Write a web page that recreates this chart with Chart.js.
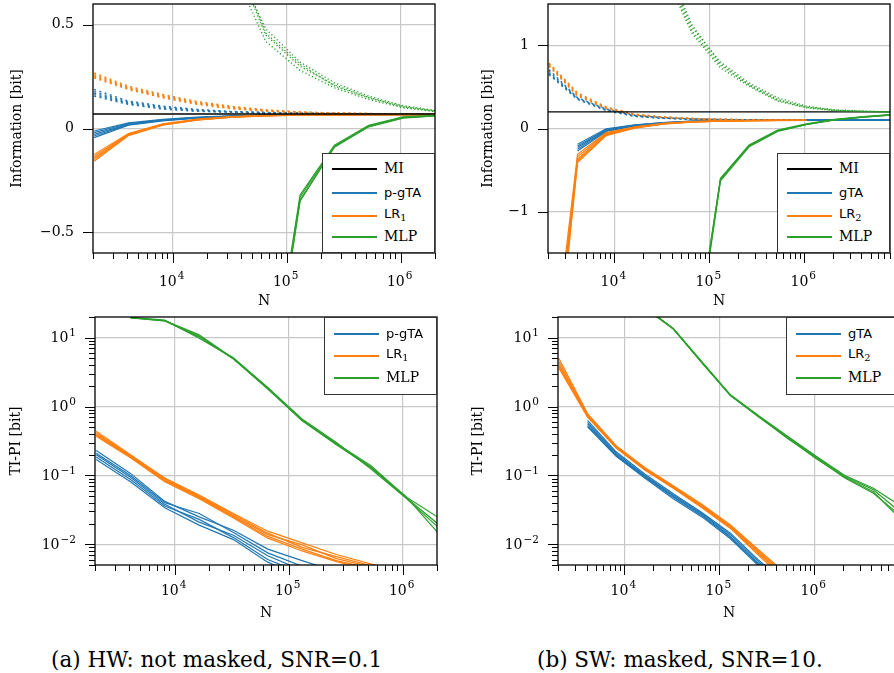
<!DOCTYPE html>
<html>
<head>
<meta charset="utf-8">
<script src="https://cdn.jsdelivr.net/npm/chart.js@4.4.1/dist/chart.umd.min.js"></script>
<style>
html, body { margin: 0; padding: 0; background: #fff; overflow: hidden; width: 894px; height: 673px; }
canvas { position: absolute; }
.legend { position: absolute; background: #fff; border: 1.2px solid #333; box-sizing: border-box; z-index: 2; }
.legend .ln { position: absolute; height: 2px; width: 45px; }
.legend .tx { position: absolute; transform: translateY(-55%); line-height: 1; white-space: nowrap; color: #000; }
.legend sub { font-size: 0.75em; font-family: "DejaVu Serif", serif; vertical-align: -0.3em; }
.serif { font-family: "DejaVu Serif", serif; font-size: 14px; }
.sans { font-family: "DejaVu Sans", sans-serif; font-size: 13px; }
.cap { position: absolute; font-family: "DejaVu Serif", serif; font-size: 21.5px; line-height: 1; white-space: nowrap; }
</style>
</head>
<body>
<canvas id="tl"></canvas>
<canvas id="tr"></canvas>
<canvas id="bl"></canvas>
<canvas id="br"></canvas>
<div class="cap" style="left:51px; top:649px;">(a) HW: not masked, SNR=0.1</div>
<div class="cap" style="left:537px; top:649px;">(b) SW: masked, SNR=10.</div>

<script>
// sample sizes (powers of two)
const N_A = [2048, 4096, 8192, 16384, 32768, 65536, 131072, 262144, 524288, 1048576, 2097152];
const N_B = [2048, 4096, 8192, 16384, 32768, 65536, 131072, 262144, 524288, 1048576, 2097152, 4194304, 8388608];
const xRangeA = [2000, 2e6];
const xRangeB = [2000, 8e6];

// mutual information
const miA = 0.07;
const miB = 0.2;

// (a) perceived information (solid), several runs
const piGtaA = [
  [-0.012, 0.027, 0.044, 0.055, 0.061, 0.064, 0.066, 0.067, 0.067, 0.067, 0.067],
  [-0.020, 0.024, 0.042, 0.053, 0.060, 0.064, 0.066, 0.067, 0.067, 0.067, 0.067],
  [-0.028, 0.021, 0.040, 0.052, 0.060, 0.063, 0.065, 0.066, 0.067, 0.067, 0.067],
  [-0.036, 0.019, 0.039, 0.051, 0.059, 0.063, 0.065, 0.066, 0.067, 0.067, 0.067],
  [-0.044, 0.016, 0.037, 0.050, 0.058, 0.062, 0.065, 0.066, 0.067, 0.067, 0.067]
];
const piLrA = [
  [-0.125, -0.024, 0.022, 0.045, 0.057, 0.063, 0.065, 0.066, 0.067, 0.067, 0.067],
  [-0.135, -0.027, 0.020, 0.043, 0.056, 0.062, 0.065, 0.066, 0.067, 0.067, 0.067],
  [-0.143, -0.029, 0.019, 0.042, 0.056, 0.062, 0.065, 0.066, 0.067, 0.067, 0.067],
  [-0.150, -0.031, 0.018, 0.041, 0.055, 0.061, 0.064, 0.066, 0.067, 0.067, 0.067],
  [-0.158, -0.034, 0.016, 0.040, 0.054, 0.061, 0.064, 0.066, 0.067, 0.067, 0.067]
];
const piMlpA = [
  [null, null, null, null, null, -1.38, -0.32, -0.080, 0.015, 0.056, 0.064],
  [null, null, null, null, null, -1.42, -0.33, -0.085, 0.012, 0.054, 0.063],
  [null, null, null, null, null, -1.45, -0.345, -0.090, 0.010, 0.052, 0.062],
  [null, null, null, null, null, -1.40, -0.35, -0.088, 0.008, 0.050, 0.061]
];
// (a) training information (dotted)
const tiGtaA = [
  [0.188, 0.132, 0.108, 0.092, 0.082, 0.078, 0.074, 0.072, 0.071, 0.070, 0.070],
  [0.178, 0.127, 0.104, 0.089, 0.081, 0.077, 0.073, 0.072, 0.071, 0.070, 0.070],
  [0.170, 0.123, 0.100, 0.087, 0.080, 0.076, 0.073, 0.071, 0.070, 0.070, 0.070],
  [0.163, 0.119, 0.097, 0.085, 0.079, 0.075, 0.072, 0.071, 0.070, 0.070, 0.070],
  [0.156, 0.116, 0.093, 0.083, 0.078, 0.074, 0.072, 0.071, 0.070, 0.070, 0.070]
];
const tiLrA = [
  [0.268, 0.204, 0.164, 0.130, 0.107, 0.090, 0.080, 0.075, 0.072, 0.071, 0.070],
  [0.260, 0.199, 0.159, 0.126, 0.104, 0.088, 0.079, 0.074, 0.072, 0.071, 0.070],
  [0.254, 0.195, 0.155, 0.123, 0.101, 0.087, 0.078, 0.074, 0.072, 0.071, 0.070],
  [0.249, 0.191, 0.151, 0.120, 0.098, 0.085, 0.077, 0.073, 0.071, 0.070, 0.070],
  [0.244, 0.188, 0.148, 0.116, 0.095, 0.083, 0.076, 0.073, 0.071, 0.070, 0.070]
];
const tiMlpA = [
  [null, null, null, null, 0.82, 0.48, 0.32, 0.220, 0.156, 0.110, 0.085],
  [null, null, null, null, 0.85, 0.45, 0.30, 0.210, 0.150, 0.106, 0.083],
  [null, null, null, null, 0.78, 0.42, 0.28, 0.196, 0.140, 0.100, 0.080],
  [null, null, null, null, 0.88, 0.46, 0.31, 0.205, 0.147, 0.104, 0.082]
];

// (b) perceived information (solid)
const piGtaB = [
  [null, -0.19, -0.004, 0.045, 0.072, 0.090, 0.097, 0.100, 0.100, 0.100, 0.100, 0.100, 0.100],
  [null, -0.21, -0.012, 0.040, 0.070, 0.088, 0.096, 0.099, 0.100, 0.100, 0.100, 0.100, 0.100],
  [null, -0.23, -0.020, 0.036, 0.067, 0.086, 0.095, 0.099, 0.100, 0.100, 0.100, 0.100, 0.100],
  [null, -0.25, -0.028, 0.032, 0.064, 0.084, 0.094, 0.098, 0.099, 0.100, 0.100, 0.100, 0.100],
  [null, -0.27, -0.036, 0.028, 0.062, 0.082, 0.093, 0.098, 0.099, 0.100, 0.100, 0.100, 0.100]
];
const piLrB = [
  [-3.2, -0.31, -0.050, 0.020, 0.062, 0.084, 0.092, 0.096, 0.097, 0.098, null, null, null],
  [-3.4, -0.34, -0.059, 0.016, 0.060, 0.082, 0.091, 0.096, 0.097, 0.098, null, null, null],
  [-3.5, -0.37, -0.068, 0.012, 0.057, 0.080, 0.090, 0.095, 0.097, 0.098, null, null, null],
  [-3.65, -0.39, -0.076, 0.008, 0.055, 0.078, 0.089, 0.095, 0.097, 0.098, null, null, null],
  [-3.8, -0.41, -0.085, 0.004, 0.052, 0.076, 0.088, 0.094, 0.096, 0.098, null, null, null]
];
const piMlpB = [
  [null, null, null, null, null, -2.90, -0.60, -0.200, -0.020, 0.055, 0.110, 0.142, 0.168],
  [null, null, null, null, null, -2.85, -0.61, -0.210, -0.025, 0.050, 0.108, 0.140, 0.166],
  [null, null, null, null, null, -2.95, -0.62, -0.215, -0.030, 0.048, 0.105, 0.138, 0.164],
  [null, null, null, null, null, -3.00, -0.63, -0.220, -0.035, 0.045, 0.103, 0.136, 0.162]
];
// (b) training information (dotted)
const tiGtaB = [
  [0.71, 0.37, 0.235, 0.160, 0.130, 0.115, 0.108, 0.104, 0.102, 0.101, 0.100, 0.100, 0.100],
  [0.69, 0.365, 0.230, 0.155, 0.128, 0.114, 0.107, 0.104, 0.102, 0.101, 0.100, 0.100, 0.100],
  [0.67, 0.36, 0.225, 0.150, 0.126, 0.113, 0.106, 0.103, 0.102, 0.101, 0.100, 0.100, 0.100],
  [0.66, 0.355, 0.220, 0.148, 0.124, 0.112, 0.106, 0.103, 0.101, 0.100, 0.100, 0.100, 0.100],
  [0.65, 0.35, 0.215, 0.145, 0.122, 0.111, 0.105, 0.103, 0.101, 0.100, 0.100, 0.100, 0.100]
];
const tiLrB = [
  [0.79, 0.43, 0.260, 0.175, 0.140, 0.122, 0.112, 0.106, 0.103, 0.101, null, null, null],
  [0.78, 0.42, 0.255, 0.170, 0.138, 0.121, 0.111, 0.106, 0.103, 0.101, null, null, null],
  [0.77, 0.41, 0.250, 0.168, 0.136, 0.120, 0.110, 0.105, 0.103, 0.101, null, null, null],
  [0.76, 0.40, 0.245, 0.165, 0.134, 0.119, 0.110, 0.105, 0.102, 0.101, null, null, null],
  [0.75, 0.39, 0.240, 0.162, 0.132, 0.118, 0.109, 0.105, 0.102, 0.100, null, null, null]
];
const tiMlpB = [
  [null, null, null, null, 2.00, 1.22, 0.80, 0.55, 0.37, 0.270, 0.225, 0.210, 0.200],
  [null, null, null, null, 1.95, 1.18, 0.76, 0.53, 0.35, 0.260, 0.220, 0.207, 0.200],
  [null, null, null, null, 2.05, 1.25, 0.78, 0.52, 0.34, 0.255, 0.218, 0.205, 0.198],
  [null, null, null, null, 1.90, 1.15, 0.73, 0.51, 0.33, 0.250, 0.215, 0.203, 0.197]
];

// (a) TI-PI gap, log scale
const gapGtaA = [
  [0.230, 0.107, 0.042, 0.025, 0.0160, 0.0085, 0.0058, 0.0040, 0.0030, 0.0025, 0.0020],
  [0.210, 0.100, 0.040, 0.028, 0.0148, 0.0075, 0.0048, 0.0036, 0.0028, 0.0024, 0.0020],
  [0.200, 0.094, 0.038, 0.021, 0.0135, 0.0068, 0.0042, 0.0033, 0.0027, 0.0023, 0.0020],
  [0.185, 0.087, 0.036, 0.023, 0.0125, 0.0060, 0.0038, 0.0030, 0.0026, 0.0022, 0.0020],
  [0.170, 0.081, 0.034, 0.019, 0.0117, 0.0055, 0.0033, 0.0028, 0.0025, 0.0021, 0.0020]
];
const gapLrA = [
  [0.440, 0.200, 0.092, 0.052, 0.028, 0.0155, 0.0105, 0.0071, 0.0052, 0.0040, 0.0030],
  [0.420, 0.195, 0.089, 0.050, 0.027, 0.0145, 0.0090, 0.0066, 0.0049, 0.0039, 0.0030],
  [0.400, 0.190, 0.086, 0.049, 0.026, 0.0138, 0.0098, 0.0062, 0.0047, 0.0038, 0.0030],
  [0.385, 0.185, 0.083, 0.048, 0.025, 0.0130, 0.0085, 0.0058, 0.0045, 0.0037, 0.0030],
  [0.370, 0.180, 0.081, 0.046, 0.024, 0.0123, 0.0080, 0.0056, 0.0042, 0.0036, 0.0030]
];
const gapMlpA = [
  [null, 19.6, 17.8, 11.0, 5.00, 1.90, 0.64, 0.290, 0.140, 0.050, 0.024],
  [null, 19.4, 17.5, 10.3, 4.90, 1.82, 0.62, 0.280, 0.130, 0.049, 0.019],
  [null, 19.8, 18.0, 9.8, 5.10, 1.88, 0.66, 0.300, 0.125, 0.048, 0.017],
  [null, 19.5, 17.6, 10.6, 4.95, 1.80, 0.63, 0.285, 0.135, 0.051, 0.014]
];

// (b) TI-PI gap, log scale
const gapGtaB = [
  [null, 0.63, 0.22, 0.105, 0.054, 0.029, 0.0145, 0.0058, 0.0026, null, null, null, null],
  [null, 0.59, 0.21, 0.100, 0.052, 0.028, 0.0138, 0.0055, 0.0025, null, null, null, null],
  [null, 0.56, 0.20, 0.098, 0.050, 0.027, 0.0130, 0.0052, 0.0024, null, null, null, null],
  [null, 0.53, 0.195, 0.095, 0.048, 0.026, 0.0125, 0.0050, 0.0023, null, null, null, null],
  [null, 0.51, 0.19, 0.092, 0.046, 0.025, 0.0120, 0.0048, 0.0022, null, null, null, null]
];
const gapLrB = [
  [5.0, 0.79, 0.270, 0.130, 0.071, 0.038, 0.0190, 0.0082, 0.0036, null, null, null, null],
  [4.5, 0.76, 0.265, 0.127, 0.069, 0.037, 0.0185, 0.0078, 0.0034, null, null, null, null],
  [4.1, 0.74, 0.260, 0.125, 0.068, 0.036, 0.0180, 0.0075, 0.0032, null, null, null, null],
  [3.8, 0.72, 0.255, 0.123, 0.066, 0.035, 0.0175, 0.0072, 0.0030, null, null, null, null],
  [3.6, 0.70, 0.250, 0.120, 0.065, 0.034, 0.0170, 0.0068, 0.0028, null, null, null, null]
];
const gapMlpB = [
  [null, null, null, 27.5, 13.5, 4.40, 1.46, 0.72, 0.360, 0.185, 0.097, 0.062, 0.028],
  [null, null, null, 27.0, 13.4, 4.30, 1.44, 0.70, 0.350, 0.175, 0.094, 0.058, 0.022],
  [null, null, null, 28.0, 13.6, 4.50, 1.48, 0.73, 0.370, 0.190, 0.100, 0.065, 0.035],
  [null, null, null, 27.5, 13.5, 4.35, 1.45, 0.71, 0.345, 0.180, 0.092, 0.055, 0.025]
];

const BLUE = '#1f77b4', ORANGE = '#ff7f0e', GREEN = '#2ca02c';
const SERIF = "'DejaVu Serif', serif";

// ticks 1..9 x 10^k between min and max, powers of ten are major
function logTicks(min, max) {
  const out = [];
  for (let e = Math.floor(Math.log10(min)); e <= Math.ceil(Math.log10(max)); e++) {
    for (let m = 1; m <= 9; m++) {
      const v = m * Math.pow(10, e);
      if (v >= min * 0.999 && v <= max * 1.001) out.push({ value: v, major: m === 1 });
    }
  }
  return out;
}

function runLines(runs, xs, color, dotted) {
  return runs.map(r => ({
    data: xs.map((x, i) => ({ x: x, y: r[i] })),
    borderColor: color,
    borderWidth: dotted ? 1.4 : 1.2,
    borderDash: dotted ? (color === GREEN ? [1.2, 2.4] : [2, 3.5]) : [],
    pointRadius: 0,
    fill: false,
    tension: 0
  }));
}

function miLine(range, v) {
  return {
    data: range.map(x => ({ x: x, y: v })),
    borderColor: '#000', borderWidth: 1.4, pointRadius: 0, fill: false
  };
}

// "10" with a raised exponent
function drawPow(ctx, x, y, e, align) {
  const es = e < 0 ? '−' + (-e) : String(e);
  ctx.font = '14px ' + SERIF;
  const wb = ctx.measureText('10').width;
  ctx.font = '10.5px ' + SERIF;
  const we = ctx.measureText(es).width;
  const total = wb + 1 + we;
  const x0 = align === 'center' ? x - total / 2 : x - total;
  ctx.textAlign = 'left';
  ctx.textBaseline = 'middle';
  ctx.font = '14px ' + SERIF;
  ctx.fillText('10', x0, y);
  ctx.font = '10.5px ' + SERIF;
  ctx.fillText(es, x0 + wb + 1, y - 5.5);
}

// frame, outward tick marks and tick labels
const frameTicks = {
  id: 'frameTicks',
  afterDraw(chart, args, opts) {
    const ctx = chart.ctx, a = chart.chartArea;
    const xs = chart.scales.x, ys = chart.scales.y;
    ctx.save();
    ctx.strokeStyle = '#000';
    ctx.lineWidth = 1;
    ctx.beginPath();
    xs.ticks.forEach(t => {
      const px = Math.round(xs.getPixelForValue(t.value)) + 0.5;
      ctx.moveTo(px, a.bottom);
      ctx.lineTo(px, a.bottom + (t.major ? 10 : 6));
    });
    ys.ticks.forEach(t => {
      const py = Math.round(ys.getPixelForValue(t.value)) + 0.5;
      ctx.moveTo(a.left, py);
      ctx.lineTo(a.left - (t.major ? 10 : 6), py);
    });
    ctx.stroke();
    ctx.lineWidth = 1.3;
    ctx.strokeRect(a.left, a.top, a.right - a.left, a.bottom - a.top);

    ctx.fillStyle = '#000';
    xs.ticks.filter(t => t.major).forEach(t => {
      drawPow(ctx, xs.getPixelForValue(t.value) - 1, a.bottom + opts.xLabelOff, Math.round(Math.log10(t.value)), 'center');
    });
    ys.ticks.filter(t => t.major).forEach(t => {
      const py = ys.getPixelForValue(t.value);
      if (opts.linear) {
        const v = t.value;
        ctx.font = '14px ' + SERIF;
        ctx.textAlign = 'right';
        ctx.textBaseline = 'middle';
        ctx.fillText(v === 0 ? '0' : (v < 0 ? '−' : '') + Math.abs(v), a.left - 19, py);
      } else {
        drawPow(ctx, a.left - 19, py + 1, Math.round(Math.log10(t.value)), 'right');
      }
    });
    ctx.restore();
  }
};

function makePanel(id, p) {
  const cv = document.getElementById(id);
  cv.width = p.w;
  cv.height = p.h;
  cv.style.left = p.x + 'px';
  cv.style.top = p.y + 'px';
  const gridColor = c => (c.tick && c.tick.major ? '#c8c8c8' : 'rgba(0,0,0,0)');
  const titleFont = { family: SERIF, size: 14 };
  const yLinear = p.yType === 'linear';
  new Chart(cv, {
    type: 'line',
    data: { datasets: p.datasets },
    options: {
      responsive: false,
      animation: false,
      events: [],
      layout: { padding: { left: 0, top: p.area.t - p.y, right: p.x + p.w - p.area.r, bottom: 0 } },
      plugins: {
        legend: { display: false },
        tooltip: { enabled: false },
        frameTicks: { linear: yLinear, xLabelOff: p.xLabelOff }
      },
      scales: {
        x: {
          type: 'logarithmic',
          min: p.xRange[0],
          max: p.xRange[1],
          afterBuildTicks: s => { s.ticks = logTicks(p.xRange[0], p.xRange[1]); },
          afterFit: s => { s.height = p.y + p.h - p.area.b; s.paddingLeft = 0; s.paddingRight = 0; },
          grid: { color: gridColor, lineWidth: 1.2, drawTicks: false },
          border: { display: false },
          ticks: { display: false },
          title: { display: true, text: 'N', color: '#000', font: titleFont, padding: { top: 0, bottom: p.xTitlePad } }
        },
        y: {
          type: p.yType,
          min: p.yRange[0],
          max: p.yRange[1],
          afterBuildTicks: s => {
            s.ticks = yLinear ? p.yTicks.map(v => ({ value: v, major: true })) : logTicks(p.yRange[0], p.yRange[1]);
          },
          afterFit: s => { s.width = p.area.l - p.x; s.paddingTop = 0; s.paddingBottom = 0; },
          grid: { color: gridColor, lineWidth: 1.2, drawTicks: false },
          border: { display: false },
          ticks: { display: false },
          title: { display: true, text: p.yTitle, color: '#000', font: titleFont, padding: { top: p.yTitlePad, bottom: 0 } }
        }
      }
    },
    plugins: [frameTicks]
  });
}

function makeLegend(box, lineX, textX, items) {
  const el = document.createElement('div');
  el.className = 'legend';
  el.style.left = box.x + 'px';
  el.style.top = box.y + 'px';
  el.style.width = box.w + 'px';
  el.style.height = box.h + 'px';
  items.forEach(it => {
    const ln = document.createElement('div');
    ln.className = 'ln';
    ln.style.left = (lineX - box.x) + 'px';
    ln.style.top = (it.y - box.y - 1) + 'px';
    ln.style.background = it.color;
    el.appendChild(ln);
    const tx = document.createElement('div');
    tx.className = 'tx ' + it.cls;
    tx.style.left = (textX - box.x) + 'px';
    tx.style.top = (it.y - box.y) + 'px';
    tx.innerHTML = it.label;
    el.appendChild(tx);
  });
  document.body.appendChild(el);
}

makePanel('tl', {
  x: 0, y: 0, w: 447, h: 312,
  area: { l: 93, t: 4, r: 435, b: 253 },
  xRange: xRangeA, yType: 'linear', yRange: [-0.6, 0.6], yTicks: [-0.5, 0, 0.5],
  yTitle: 'Information [bit]', yTitlePad: 9, xTitlePad: 2, xLabelOff: 29,
  datasets: [].concat(
    runLines(piMlpA, N_A, GREEN, false), runLines(tiMlpA, N_A, GREEN, true),
    [miLine(xRangeA, miA)],
    runLines(piLrA, N_A, ORANGE, false), runLines(tiLrA, N_A, ORANGE, true),
    runLines(piGtaA, N_A, BLUE, false), runLines(tiGtaA, N_A, BLUE, true))
});

makePanel('tr', {
  x: 447, y: 0, w: 447, h: 312,
  area: { l: 548, t: 4, r: 890, b: 253 },
  xRange: xRangeB, yType: 'linear', yRange: [-1.5, 1.5], yTicks: [-1, 0, 1],
  yTitle: 'Information [bit]', yTitlePad: 33, xTitlePad: 2, xLabelOff: 29,
  datasets: [].concat(
    runLines(piMlpB, N_B, GREEN, false), runLines(tiMlpB, N_B, GREEN, true),
    [miLine(xRangeB, miB)],
    runLines(piLrB, N_B, ORANGE, false), runLines(tiLrB, N_B, ORANGE, true),
    runLines(piGtaB, N_B, BLUE, false), runLines(tiGtaB, N_B, BLUE, true))
});

makePanel('bl', {
  x: 0, y: 305, w: 447, h: 320,
  area: { l: 95, t: 317, r: 437, b: 565 },
  xRange: xRangeA, yType: 'logarithmic', yRange: [0.005, 20],
  yTitle: 'TI-PI [bit]', yTitlePad: 8, xTitlePad: 3, xLabelOff: 26,
  datasets: [].concat(
    runLines(gapMlpA, N_A, GREEN, false),
    runLines(gapLrA, N_A, ORANGE, false),
    runLines(gapGtaA, N_A, BLUE, false))
});

makePanel('br', {
  x: 447, y: 305, w: 460, h: 320,
  area: { l: 558, t: 317, r: 900, b: 565 },
  xRange: xRangeB, yType: 'logarithmic', yRange: [0.005, 20],
  yTitle: 'TI-PI [bit]', yTitlePad: 23, xTitlePad: 3, xLabelOff: 26,
  datasets: [].concat(
    runLines(gapMlpB, N_B, GREEN, false),
    runLines(gapLrB, N_B, ORANGE, false),
    runLines(gapGtaB, N_B, BLUE, false))
});

makeLegend({ x: 322, y: 153, w: 113, h: 100 }, 331, 383, [
  { y: 168, color: '#000', cls: 'serif', label: 'MI' },
  { y: 192, color: BLUE, cls: 'sans', label: 'p-gTA' },
  { y: 215, color: ORANGE, cls: 'sans', label: 'LR<sub>1</sub>' },
  { y: 236, color: GREEN, cls: 'serif', label: 'MLP' }
]);
makeLegend({ x: 777, y: 153, w: 113, h: 100 }, 786, 838, [
  { y: 168, color: '#000', cls: 'serif', label: 'MI' },
  { y: 192, color: BLUE, cls: 'sans', label: 'gTA' },
  { y: 215, color: ORANGE, cls: 'sans', label: 'LR<sub>2</sub>' },
  { y: 236, color: GREEN, cls: 'serif', label: 'MLP' }
]);
makeLegend({ x: 324, y: 317, w: 113, h: 78 }, 333, 385, [
  { y: 333, color: BLUE, cls: 'sans', label: 'p-gTA' },
  { y: 355, color: ORANGE, cls: 'sans', label: 'LR<sub>1</sub>' },
  { y: 377, color: GREEN, cls: 'serif', label: 'MLP' }
]);
makeLegend({ x: 786, y: 317, w: 120, h: 78 }, 795, 847, [
  { y: 333, color: BLUE, cls: 'sans', label: 'gTA' },
  { y: 355, color: ORANGE, cls: 'sans', label: 'LR<sub>2</sub>' },
  { y: 377, color: GREEN, cls: 'serif', label: 'MLP' }
]);
</script>
</body>
</html>
